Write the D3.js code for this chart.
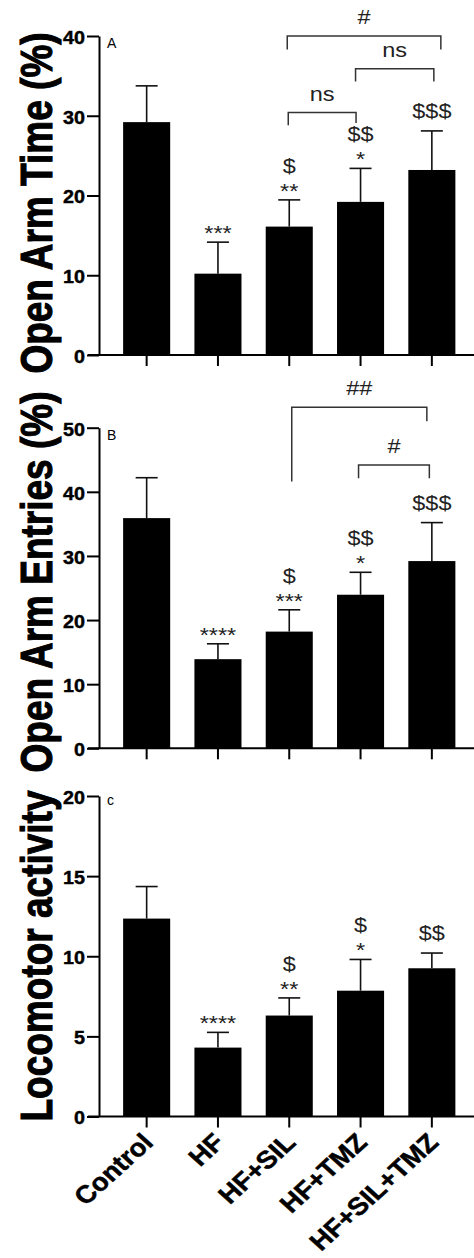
<!DOCTYPE html>
<html>
<head>
<meta charset="utf-8">
<script src="https://cdn.jsdelivr.net/npm/d3@7"></script>
<style>
  html, body { margin: 0; padding: 0; background: #fff; }
  svg { display: block; }
</style>
</head>
<body>
<svg id="chart" width="474" height="1258"></svg>
<script>
// ---- data ----
const categories = ["Control", "HF", "HF+SIL", "HF+TMZ", "HF+SIL+TMZ"];

const openArmTime = [29.2, 10.2, 16.1, 19.2, 23.2];
const openArmTimeSem = [4.55, 3.95, 3.35, 4.2, 4.9];
const openArmEntries = [35.9, 13.9, 18.2, 23.95, 29.2];
const openArmEntriesSem = [6.3, 2.4, 3.4, 3.5, 6.0];
const locomotor = [12.35, 4.3, 6.3, 7.85, 9.25];
const locomotorSem = [2.0, 0.95, 1.1, 1.95, 0.95];

const timeTicks = [0, 10, 20, 30, 40];
const entriesTicks = [0, 10, 20, 30, 40, 50];
const locomotorTicks = [0, 5, 10, 15, 20];

// * vs Control, $ vs HF
const timeStars = ["", "***", "**", "*", ""];
const timeDollars = ["", "", "$", "$$", "$$$"];
const entriesStars = ["", "****", "***", "*", ""];
const entriesDollars = ["", "", "$", "$$", "$$$"];
const locomotorStars = ["", "****", "**", "*", ""];
const locomotorDollars = ["", "", "$", "$", "$$"];

// pairwise comparisons between treated groups (# / ns)
const timeComparisons = [["HF+SIL", "HF+SIL+TMZ", "#"], ["HF+TMZ", "HF+SIL+TMZ", "ns"], ["HF+SIL", "HF+TMZ", "ns"]];
const entriesComparisons = [["HF+SIL", "HF+SIL+TMZ", "##"], ["HF+TMZ", "HF+SIL+TMZ", "#"]];

// ---- layout ----
const FONT = "'Liberation Sans', Arial, Helvetica, sans-serif";
const svg = d3.select("#chart");
svg.append("rect").attr("width", 474).attr("height", 1258).attr("fill", "#fff");

const axisX = 99;
const x = d3.scaleBand()
  .domain(categories)
  .range([111, 467.5])
  .paddingInner(0.34)
  .paddingOuter(0.17);
const cx = c => x(c) + x.bandwidth() / 2;

// bracket placement: level and leg ends in data units, end nudges in px
const timeBracketLayout = [
  { level: 40.0, legs: [38.3, 38.3], nudge: [-2, 9] },
  { level: 35.9, legs: [34.3, 34.3], nudge: [-5, 2] },
  { level: 30.4, legs: [28.8, 29.1], nudge: [-1, -4.5] }
];
const entriesBracketLayout = [
  { level: 53.2, legs: [41.6, 51.0], nudge: [2.5, -5] },
  { level: 44.2, legs: [42.1, 42.1], nudge: [-2, -2.5] }
];

const panels = [
  { title: "Open Arm Time (%)", letter: "A", values: openArmTime, sem: openArmTimeSem,
    ticks: timeTicks, max: 40, top: 36, bottom: 355, titleY: 203, letterY: 48,
    stars: timeStars, dollars: timeDollars, comparisons: timeComparisons, bracketLayout: timeBracketLayout },
  { title: "Open Arm Entries (%)", letter: "B", values: openArmEntries, sem: openArmEntriesSem,
    ticks: entriesTicks, max: 50, top: 427.7, bottom: 748.3, titleY: 582, letterY: 440,
    stars: entriesStars, dollars: entriesDollars, comparisons: entriesComparisons, bracketLayout: entriesBracketLayout },
  { title: "Locomotor activity", letter: "c", values: locomotor, sem: locomotorSem,
    ticks: locomotorTicks, max: 20, top: 796, bottom: 1116.5, titleY: 956, letterY: 805,
    stars: locomotorStars, dollars: locomotorDollars, comparisons: [], bracketLayout: [] }
];

panels.forEach((p, pi) => {
  const isLast = pi === panels.length - 1;
  const y = d3.scaleLinear().domain([0, p.max]).range([p.bottom, p.top]);
  const g = svg.append("g");

  // bars
  g.selectAll("rect.bar")
    .data(p.values)
    .join("rect")
    .attr("class", "bar")
    .attr("x", (d, i) => x(categories[i]))
    .attr("y", d => y(d))
    .attr("width", x.bandwidth())
    .attr("height", d => y(0) - y(d))
    .attr("fill", "#000");

  // upper error bars
  const eb = g.selectAll("g.err")
    .data(p.values.map((v, i) => ({ v, e: p.sem[i], c: categories[i] })))
    .join("g")
    .attr("class", "err")
    .attr("stroke", "#111")
    .attr("stroke-width", 1.6);
  eb.append("line")
    .attr("x1", d => cx(d.c)).attr("x2", d => cx(d.c))
    .attr("y1", d => y(d.v)).attr("y2", d => y(d.v + d.e));
  eb.append("line")
    .attr("x1", d => cx(d.c) - 11).attr("x2", d => cx(d.c) + 11)
    .attr("y1", d => y(d.v + d.e)).attr("y2", d => y(d.v + d.e));

  // y axis
  const ya = g.append("g")
    .attr("transform", `translate(${axisX},0)`)
    .call(d3.axisLeft(y).tickValues(p.ticks).tickSize(12).tickSizeOuter(0).tickPadding(2).tickFormat(d3.format("d")));
  ya.select(".domain").attr("stroke", "#000").attr("stroke-width", 2);
  ya.selectAll(".tick line").attr("stroke", "#000").attr("stroke-width", 2);
  ya.selectAll(".tick text")
    .attr("x", 0)
    .attr("dy", "0.42em")
    .attr("transform", "translate(-14,0) scale(1.13,1)")
    .attr("fill", "#000")
    .attr("stroke", "#000")
    .attr("stroke-width", 0.4)
    .style("font-family", FONT)
    .style("font-size", "17.5px")
    .style("font-weight", "bold");

  // x axis
  g.append("line")
    .attr("x1", 88).attr("x2", 480)
    .attr("y1", y(0)).attr("y2", y(0))
    .attr("stroke", "#000").attr("stroke-width", 2);
  const xa = g.append("g")
    .attr("transform", `translate(0,${y(0)})`)
    .call(d3.axisBottom(x).tickSize(11).tickSizeOuter(0).tickPadding(0));
  xa.select(".domain").remove();
  xa.selectAll(".tick line").attr("stroke", "#000").attr("stroke-width", 2);
  if (isLast) {
    xa.selectAll(".tick text")
      .attr("x", 0).attr("y", 0).attr("dy", null)
      .attr("transform", "translate(8,27.5) scale(1.1,1) rotate(-45)")
      .attr("text-anchor", "end")
      .attr("fill", "#000")
      .attr("stroke", "#000")
      .attr("stroke-width", 0.5)
      .style("font-family", FONT)
      .style("font-size", "25px")
      .style("font-weight", "bold");
  } else {
    xa.selectAll(".tick text").remove();
  }

  // axis title
  g.append("text")
    .attr("transform", `translate(52,${p.titleY}) rotate(-90) scale(1,1.22)`)
    .attr("text-anchor", "middle")
    .style("font-family", FONT)
    .style("font-size", "37px")
    .style("font-weight", "bold")
    .attr("fill", "#000")
    .attr("stroke", "#000")
    .attr("stroke-width", 0.9)
    .text(p.title);

  // panel letter
  g.append("text")
    .attr("x", 107).attr("y", p.letterY)
    .style("font-family", FONT)
    .style("font-size", "14px")
    .attr("fill", "#000")
    .text(p.letter);

  // significance marks above error bars
  const note = (txt, px, py) => g.append("text")
    .attr("transform", `translate(${px},${py}) scale(1.12,1)`)
    .attr("text-anchor", "middle")
    .style("font-family", FONT)
    .style("font-size", "21px")
    .attr("fill", "#222")
    .text(txt);

  categories.forEach((c, i) => {
    const top = y(p.values[i] + p.sem[i]);
    let base = top;
    if (p.stars[i]) {
      base = top - 2;
      note(p.stars[i], cx(c), base);
    }
    if (p.dollars[i]) {
      note(p.dollars[i], cx(c), p.stars[i] ? base - 25 : top - 13);
    }
  });

  // comparison brackets
  p.comparisons.forEach(([a, b, label], k) => {
    const L = p.bracketLayout[k];
    const x1 = cx(a) + L.nudge[0];
    const x2 = cx(b) + L.nudge[1];
    const yl = y(L.level);
    g.append("path")
      .attr("d", `M${x1},${y(L.legs[0])}V${yl}H${x2}V${y(L.legs[1])}`)
      .attr("fill", "none")
      .attr("stroke", "#333")
      .attr("stroke-width", 1.5);
    note(label, (x1 + x2) / 2, yl - 12);
  });
});
</script>
</body>
</html>
